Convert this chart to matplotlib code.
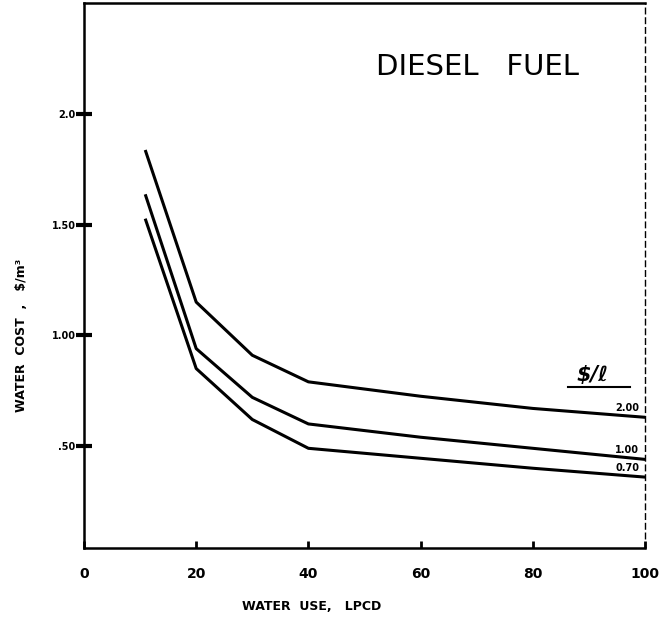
import numpy as np
import matplotlib.pyplot as plt

# Water use (LPCD) and water cost ($/m3) for three diesel fuel prices ($/l)
water_use = [11, 20, 30, 40, 60, 80, 100]
cost_200 = [1.83, 1.15, 0.91, 0.79, 0.725, 0.67, 0.63]
cost_100 = [1.63, 0.94, 0.72, 0.60, 0.54, 0.49, 0.44]
cost_070 = [1.52, 0.85, 0.62, 0.49, 0.445, 0.40, 0.36]
curve_labels = ["2.00", "1.00", "0.70"]

x_ticks = [0, 20, 40, 60, 80, 100]
y_ticks = [0.5, 1.0, 1.5, 2.0]
y_tick_labels = [".50", "1.00", "1.50", "2.0"]

fig = plt.figure(figsize=(6.64, 6.19), dpi=100)
ax = fig.add_axes([84 / 664, 1 - 548 / 619, (645 - 84) / 664, (548 - 3) / 619])

for ys in (cost_200, cost_100, cost_070):
    ax.plot(water_use, ys, color='black', linewidth=2.2)

# curve labels at the right end
for ys, lab in zip((cost_200, cost_100, cost_070), curve_labels):
    ax.text(99, ys[-1] + 0.02, lab, ha='right', va='bottom', fontsize=7,
            fontweight='bold')

# units heading for the curve labels
ax.text(90.7, 0.82, "$/ℓ", ha='center', va='center', fontsize=15,
        fontweight='bold', style='italic')
ax.plot([86.3, 97.3], [0.765, 0.765], color='black', linewidth=1.5)

ax.text(70.2, 2.21, "DIESEL   FUEL", ha='center', va='center', fontsize=21)

ax.set_xlim(0, 100)
ax.set_ylim(0.04, 2.5)

ax.set_xticks(x_ticks)
ax.set_xticklabels([str(v) for v in x_ticks], fontsize=10, fontweight='bold')
ax.tick_params(axis='x', direction='in', length=5, width=2, pad=14)

ax.set_yticks(y_ticks)
ax.set_yticklabels(y_tick_labels, fontsize=7, fontweight='bold')
ax.tick_params(axis='y', direction='inout', length=12, width=3, pad=0)

for side in ('left', 'bottom', 'top'):
    ax.spines[side].set_linewidth(1.8)
ax.spines['right'].set_linewidth(1)
ax.spines['right'].set_linestyle((0, (4, 3)))

ax.set_xlabel("WATER  USE,   LPCD", fontsize=9, fontweight='bold')
ax.xaxis.set_label_coords(0.406, -0.095)
ax.set_ylabel("WATER  COST  ,   $/m³", fontsize=9, fontweight='bold')
ax.yaxis.set_label_coords(-0.10, 0.39)

plt.savefig('out.png', dpi=100)
